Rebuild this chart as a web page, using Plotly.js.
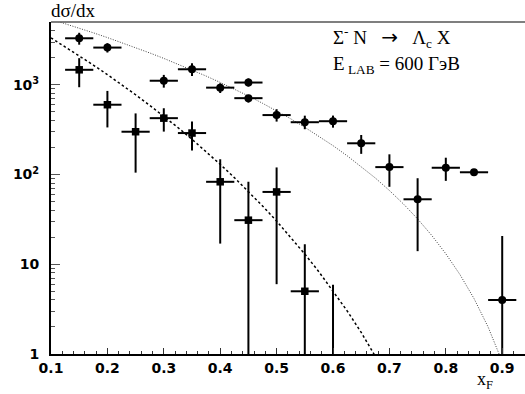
<!DOCTYPE html>
<html>
<head>
<meta charset="utf-8">
<script src="https://cdn.plot.ly/plotly-3.0.1.min.js"></script>
<style>html,body{margin:0;padding:0;background:#fff;}#chart{width:525px;height:394px;}</style>
</head>
<body>
<div id="chart"></div>
<script>
// Circles (upper series)
const xCirc = [0.15, 0.2, 0.3, 0.35, 0.4, 0.45, 0.45, 0.5, 0.55, 0.6, 0.65, 0.7, 0.75, 0.8, 0.85, 0.9];
const yCirc = [3300, 2600, 1110, 1490, 930, 1060, 710, 460, 383, 393, 223, 121, 53, 119, 106, 4];
const yCircPlus = [500, 310, 180, 250, 110, 120, 62, 75, 70, 61, 53, 47, 38, 35, 0, 16.7];
const yCircMinus = [500, 310, 180, 240, 120, 105, 77, 71, 63, 60, 53, 48, 39, 34, 0, 4];

// Squares (lower series)
const xSq = [0.15, 0.2, 0.25, 0.3, 0.35, 0.4, 0.45, 0.5, 0.55, 0.6];
const ySq = [1470, 600, 300, 425, 290, 83, 31, 64, 5, 0.5];
const ySqPlus = [510, 255, 180, 123, 100, 65, 52, 56, 11.7, 5.4];
const ySqMinus = [530, 265, 195, 124, 105, 66, 31, 58, 5, 0.5];

const binHalf = 0.025;

// Curves
const xCurve = [0.1, 0.125, 0.15, 0.175, 0.2, 0.225, 0.25, 0.275, 0.3, 0.325, 0.35, 0.375, 0.4, 0.425, 0.45, 0.475, 0.5, 0.525, 0.55, 0.575, 0.6, 0.625, 0.65, 0.675, 0.7, 0.725, 0.75, 0.775, 0.8, 0.825, 0.85, 0.875, 0.9];
const yUpperCurve = [5380, 4808, 4282, 3800, 3360, 2960, 2596, 2267, 1970, 1703, 1464, 1252, 1063, 897, 751, 623, 513, 418, 336, 268, 210, 162, 123, 91.5, 66.4, 46.9, 32.0, 21.0, 13.1, 7.69, 4.15, 2.00, 0.82];
const yLowerCurve = [3334, 2662, 2110, 1662, 1299, 1008, 775, 591, 446, 334, 247, 180, 130, 92.5, 64.9, 44.7, 30.3, 20.1, 13.0, 8.25, 5.08, 3.03, 1.74, 0.96, 0.51, null, null, null, null, null, null, null, null];

const xTickVals = [0.1, 0.2, 0.3, 0.4, 0.5, 0.6, 0.7, 0.8, 0.9];
const xTickText = ['0.1', '0.2', '0.3', '0.4', '0.5', '0.6', '0.7', '0.8', '0.9'];
const yTickVals = [1, 10, 100, 1000];
const yTickText = ['1', '10', '10<sup>2</sup>', '10<sup>3</sup>'];

const yMinor = [];
[1, 10, 100, 1000].forEach(d => { for (let k = 2; k <= 9; k++) yMinor.push(k * d); });

const tickFont = {family: 'DejaVu Sans', size: 14, color: '#000', weight: 'bold'};
const serif = 'Liberation Serif, Times New Roman, serif';
const NB = '\u00A0';

const traces = [
  {x: xCurve, y: yUpperCurve, mode: 'lines', line: {color: '#444', width: 1, dash: '1px,1.5px'}, hoverinfo: 'skip', showlegend: false},
  {x: xCurve, y: yLowerCurve, mode: 'lines', line: {color: '#000', width: 1.5, dash: '2.5px,2.5px'}, hoverinfo: 'skip', showlegend: false, connectgaps: false},
  {x: xCirc, y: yCirc, mode: 'markers', marker: {symbol: 'circle', size: 8, color: '#000'},
   error_x: {type: 'constant', value: binHalf, width: 0, thickness: 2, color: '#000'},
   error_y: {type: 'data', array: yCircPlus, arrayminus: yCircMinus, symmetric: false, width: 0, thickness: 2, color: '#000'},
   showlegend: false},
  {x: xSq, y: ySq, mode: 'markers', marker: {symbol: 'square', size: 7.5, color: '#000'},
   error_x: {type: 'constant', value: binHalf, width: 0, thickness: 2, color: '#000'},
   error_y: {type: 'data', array: ySqPlus, arrayminus: ySqMinus, symmetric: false, width: 0, thickness: 2, color: '#000'},
   showlegend: false}
];

const layout = {
  width: 525, height: 394,
  margin: {l: 51, r: 0, t: 22, b: 40},
  paper_bgcolor: '#fff', plot_bgcolor: '#fff',
  showlegend: false,
  xaxis: {
    range: [0.1, 0.9404], showgrid: false, zeroline: false,
    showline: true, linecolor: '#000', linewidth: 2,
    ticks: 'inside', ticklen: 6, tickwidth: 1, tickcolor: '#333',
    tickmode: 'array', tickvals: xTickVals, ticktext: xTickText,
    tickfont: tickFont,
    minor: {ticks: 'inside', ticklen: 3, tickwidth: 1, tickcolor: '#333', dtick: 0.02, tick0: 0.1, showgrid: false}
  },
  yaxis: {
    type: 'log', range: [0, 3.70], showgrid: false, zeroline: false,
    showline: true, linecolor: '#000', linewidth: 2,
    ticks: 'inside', ticklen: 9, tickwidth: 1, tickcolor: '#555',
    tickmode: 'array', tickvals: yTickVals, ticktext: yTickText,
    tickfont: tickFont, ticklabelstandoff: 7,
    minor: {ticks: 'inside', ticklen: 4, tickwidth: 1, tickcolor: '#555', tickmode: 'array', tickvals: yMinor, showgrid: false}
  },
  shapes: [
    {type: 'line', xref: 'paper', yref: 'paper', x0: 0, x1: 1, y0: 1, y1: 1, line: {color: '#555', width: 1.5}}
  ],
  annotations: [
    {text: 'dσ/dx', xref: 'paper', yref: 'paper', x: -0.004, y: 1.035, xanchor: 'left', yanchor: 'middle', showarrow: false, font: {family: serif, size: 19, color: '#000'}},
    {text: 'Σ<sup>-</sup>' + NB + 'N' + NB + NB + NB + '<span style="font-family:DejaVu Sans;font-size:20px">→</span>' + NB + NB + NB + 'Λ<sub>c</sub>' + NB + 'X', xref: 'paper', yref: 'paper', x: 0.591, y: 0.952, xanchor: 'left', yanchor: 'middle', showarrow: false, font: {family: serif, size: 19, color: '#000'}},
    {text: 'E<sub>' + NB + 'LAB</sub>' + NB + '=' + NB + '600' + NB + 'ГэВ', xref: 'paper', yref: 'paper', x: 0.591, y: 0.87, xanchor: 'left', yanchor: 'middle', showarrow: false, font: {family: serif, size: 19, color: '#000'}},
    {text: 'x<sub>F</sub>', xref: 'paper', yref: 'paper', x: 0.895, y: -0.08, xanchor: 'left', yanchor: 'middle', showarrow: false, font: {family: serif, size: 18, color: '#000'}}
  ]
};

Plotly.newPlot('chart', traces, layout, {staticPlot: true, displayModeBar: false});
</script>
</body>
</html>
